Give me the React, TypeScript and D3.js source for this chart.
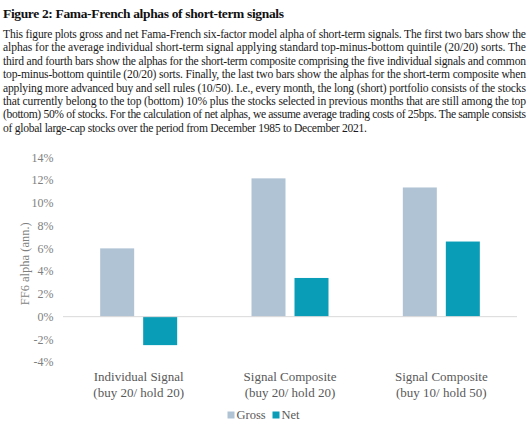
import React from "react";
import * as d3 from "d3";

const categories = ["Individual Signal|(buy 20/ hold 20)", "Signal Composite|(buy 20/ hold 20)", "Signal Composite|(buy 10/ hold 50)"];
const seriesNames = ["Gross", "Net"];
const grossValues = [6.0, 12.15, 11.35];
const netValues = [-2.5, 3.4, 6.6];
const yTicks = [-4, -2, 0, 2, 4, 6, 8, 10, 12, 14];

const title = "Figure 2: Fama-French alphas of short-term signals";
const paragraph = [
  "This figure plots gross and net Fama-French six-factor model alpha of short-term signals. The first two bars show the",
  "alphas for the average individual short-term signal applying standard top-minus-bottom quintile (20/20) sorts. The",
  "third and fourth bars show the alphas for the short-term composite comprising the five individual signals and common",
  "top-minus-bottom quintile (20/20) sorts. Finally, the last two bars show the alphas for the short-term composite when",
  "applying more advanced buy and sell rules (10/50). I.e., every month, the long (short) portfolio consists of the stocks",
  "that currently belong to the top (bottom) 10% plus the stocks selected in previous months that are still among the top",
  "(bottom) 50% of stocks. For the calculation of net alphas, we assume average trading costs of 25bps. The sample consists",
  "of global large-cap stocks over the period from December 1985 to December 2021.",
];
const yTitle = "FF6 alpha (ann.)";

const colors: Record<string, string> = { Gross: "#b0c3d5", Net: "#0a9db8" };
const FONT = "'Liberation Serif', 'Times New Roman', serif";

export default function App() {
  const W = 530, H = 442;
  const plotL = 63, plotR = 517;
  const y = d3.scaleLinear().domain([-4, 14]).range([362.2, 157.3]);
  const x0 = d3.scaleBand<string>().domain(categories).range([plotL, plotR]).padding(0);
  const x1 = d3.scaleBand<string>().domain(seriesNames).range([-38.5, 38.5]).paddingInner(9 / 43).paddingOuter(0);
  const data = categories.map((c, i) => ({ c, vals: { Gross: grossValues[i], Net: netValues[i] } as Record<string, number> }));
  const fmt = (v: number) => `${v}%`;

  return (
    <svg width={W} height={H} style={{ position: "absolute", left: 0, top: 0, background: "#fff" }} fontFamily={FONT}>
      <rect x={0} y={0} width={W} height={H} fill="#fff" />
      <text x={3} y={17.5} fontSize={13.5} fontWeight="bold" fill="#111" textLength={281} lengthAdjust="spacing">{title}</text>
      {paragraph.map((line, i) => (
        <text key={i} x={3} y={38 + i * 13.4} fontSize={11.6} fill="#1a1a1a"
          textLength={i < paragraph.length - 1 ? 523 : 364} lengthAdjust="spacing">{line}</text>
      ))}
      {yTicks.map((t) => (
        <text key={t} x={53.5} y={y(t)} dy="0.35em" textAnchor="end" fontSize={12} fill="#7f7f7f">{fmt(t)}</text>
      ))}
      <text transform={`translate(25,${(y(-4) + y(14)) / 2 + 4}) rotate(-90)`} textAnchor="middle" dy="0.35em" fontSize={12.5} fill="#7f7f7f">{yTitle}</text>
      {data.map((d) => (
        <g key={d.c} transform={`translate(${(x0(d.c) as number) + x0.bandwidth() / 2},0)`}>
          {seriesNames.map((s) => {
            const v = d.vals[s];
            return (
              <rect key={s} x={x1(s)} width={x1.bandwidth()} y={y(Math.max(0, v))}
                height={Math.abs(y(v) - y(0))} fill={colors[s]} />
            );
          })}
        </g>
      ))}
      <line x1={plotL} x2={plotR} y1={y(0)} y2={y(0)} stroke="#d9d9d9" strokeWidth={1} />
      {categories.map((c) => {
        const [l1, l2] = c.split("|");
        const cx = (x0(c) as number) + x0.bandwidth() / 2;
        return (
          <text key={c} x={cx} textAnchor="middle" fontSize={13} fill="#595959">
            <tspan x={cx} y={381}>{l1}</tspan>
            <tspan x={cx} y={397}>{l2}</tspan>
          </text>
        );
      })}
      {seriesNames.map((s, i) => {
        const lx = i === 0 ? 227.5 : 272.5;
        return (
          <g key={s}>
            <rect x={lx} y={411.5} width={7} height={7} fill={colors[s]} />
            <text x={lx + 9} y={415} dy="0.35em" fontSize={12.5} fill="#595959">{s}</text>
          </g>
        );
      })}
    </svg>
  );
}
